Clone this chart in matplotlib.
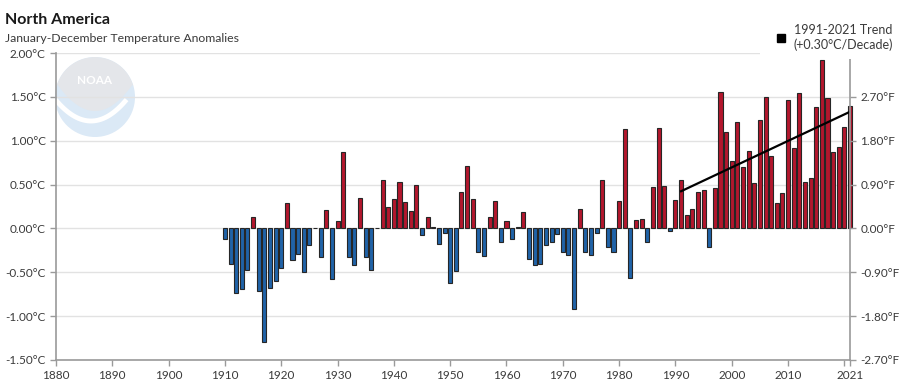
import numpy as np
import matplotlib
matplotlib.use("Agg")
import matplotlib.pyplot as plt
from matplotlib.lines import Line2D
from matplotlib.patches import Rectangle, Circle, Polygon

plt.rcParams['font.family'] = ['Lato', 'DejaVu Sans']

# Annual (Jan-Dec) temperature anomalies, North America, °C
years = list(range(1910, 2022))
anomalies = [
    -0.12, -0.41, -0.74, -0.69, -0.47, 0.13, -0.71, -1.30, -0.68, -0.60,   # 1910s
    -0.45, 0.29, -0.36, -0.29, -0.50, -0.19, 0.01, -0.33, 0.21, -0.58,     # 1920s
    0.08, 0.87, -0.33, -0.42, 0.35, -0.33, -0.47, 0.01, 0.55, 0.25,        # 1930s
    0.34, 0.53, 0.30, 0.20, 0.49, -0.08, 0.13, 0.02, -0.18, -0.05,         # 1940s
    -0.62, -0.48, 0.42, 0.71, 0.34, -0.27, -0.31, 0.13, 0.31, -0.16,       # 1950s
    0.09, -0.12, 0.02, 0.19, -0.35, -0.42, -0.41, -0.19, -0.16, -0.06,     # 1960s
    -0.27, -0.30, -0.92, 0.22, -0.27, -0.30, -0.05, 0.55, -0.21, -0.27,    # 1970s
    0.31, 1.13, -0.57, 0.10, 0.11, -0.16, 0.47, 1.14, 0.48, -0.03,         # 1980s
    0.32, 0.55, 0.15, 0.22, 0.41, 0.44, -0.21, 0.46, 1.55, 1.10,           # 1990s
    0.77, 1.21, 0.70, 0.88, 0.52, 1.24, 1.50, 0.83, 0.29, 0.40,            # 2000s
    1.46, 0.92, 1.54, 0.53, 0.58, 1.38, 1.92, 1.49, 0.87, 0.93,            # 2010s
    1.16, 1.40,                                                            # 2020s
]
trend_start, trend_end = 1991, 2021

c_ticks = [-1.5, -1.0, -0.5, 0.0, 0.5, 1.0, 1.5, 2.0]
x_ticks = [1880, 1890, 1900, 1910, 1920, 1930, 1940, 1950, 1960, 1970, 1980, 1990, 2000, 2010, 2021]

RED = '#b3172d'
BLUE = '#2063a8'
AXIS = '#9a9a9a'
TXT = '#3a3a3a'

fig = plt.figure(figsize=(8.99, 3.88), dpi=100)
ax = fig.add_axes([56 / 899, 28 / 388, 794 / 899, 307 / 388])

yrs = np.array(years)
vals = np.array(anomalies)
colors = [RED if v >= 0 else BLUE for v in vals]
ax.bar(yrs, vals, width=0.72, color=colors, edgecolor='#262626', linewidth=0.8,
       zorder=3, clip_on=False)

# 1991-2021 linear trend
sel = (yrs >= trend_start) & (yrs <= trend_end)
k, b = np.polyfit(yrs[sel], vals[sel], 1)
tx = np.array([trend_start, trend_end])
ax.plot(tx, k * tx + b, color='black', linewidth=1.6, zorder=4)

ax.set_xlim(1880, 2021)
ax.set_ylim(-1.5, 2.0)
ax.set_yticks(c_ticks)
ax.set_yticklabels([f'{t:.2f}°C' for t in c_ticks])
ax.set_xticks(x_ticks)
ax.set_xticks([2020], minor=True)
ax.set_xticklabels([str(t) for t in x_ticks])
ax.grid(axis='y', color='#e2e2e2', linewidth=1.0, zorder=0)
ax.set_axisbelow(True)

for s in ['top', 'right']:
    ax.spines[s].set_visible(False)
for s in ['left', 'bottom']:
    ax.spines[s].set_color(AXIS)
    ax.spines[s].set_linewidth(1.2)
ax.tick_params(axis='both', which='both', colors=AXIS, labelcolor=TXT, labelsize=8.5,
               length=4, width=1)

# Fahrenheit axis (top label sits under the legend in the original)
ax2 = ax.twinx()
ax2.set_ylim(-1.5 * 1.8, 2.0 * 1.8)
f_ticks = [t * 1.8 for t in c_ticks[:-1]]
ax2.set_yticks(f_ticks)
ax2.set_yticklabels([f'{t:.2f}°F' for t in f_ticks])
for s in ['top', 'left', 'bottom']:
    ax2.spines[s].set_visible(False)
ax2.spines['right'].set_color(AXIS)
ax2.spines['right'].set_linewidth(1.2)
ax2.tick_params(axis='y', colors=AXIS, labelcolor=TXT, labelsize=8.5, length=4, width=1)

# NOAA watermark
wm = fig.add_axes([55 / 899, 251 / 388, 80 / 899, 80 / 388], zorder=-1)
wm.set_xlim(-1, 1)
wm.set_ylim(-1, 1)
wm.set_aspect('equal')
wm.axis('off')
circ = Circle((0, 0), 1, facecolor='#dbe9f6', edgecolor='none')
wm.add_patch(circ)
xs = np.linspace(-1, 1, 60)
upper = np.sqrt(np.clip(1 - xs ** 2, 0, None))
lower = -0.35 + 0.75 * xs ** 2
shield = Polygon(np.column_stack([np.r_[xs, xs[::-1]], np.r_[np.minimum(upper, np.maximum(lower, -1)), upper[::-1]]]),
                 facecolor='#e4e6ea', edgecolor='none')
shield.set_clip_path(circ)
wm.add_patch(shield)
sx = np.linspace(-0.95, 0.75, 60)
sw, = wm.plot(sx, -0.55 + 0.55 * ((sx + 0.1) / 0.9) ** 2 - 0.05, color='white', linewidth=3.5)
sw.set_clip_path(circ)
wm.text(0, 0.42, 'NOAA', color='white', fontsize=8.5, fontweight='bold', ha='center', va='center')
ax.patch.set_alpha(0)

# legend area (covers the top of the plot at the right)
fig.patches.append(Rectangle((760 / 899, 329 / 388), 139 / 899, 59 / 388, transform=fig.transFigure,
                             facecolor='white', edgecolor='none', zorder=5))
handle = Line2D([], [], marker='s', color='black', linestyle='none', markersize=6)
leg = fig.legend([handle], ['1991-2021 Trend\n(+0.30°C/Decade)'], loc='upper left',
                 bbox_to_anchor=(770 / 899, 1 - 19 / 388), frameon=False, fontsize=9,
                 handletextpad=0.6, handlelength=0.9, borderaxespad=0)
leg.set_zorder(6)
for t in leg.get_texts():
    t.set_color(TXT)
    t.set_linespacing(1.25)

fig.text(5 / 899, 1 - 20 / 388, 'North America', fontsize=11.5, fontweight='bold', color='#1a1a1a',
         va='center', ha='left')
fig.text(5 / 899, 1 - 39 / 388, 'January-December Temperature Anomalies', fontsize=8.8, color=TXT,
         va='center', ha='left')

fig.savefig('out.png', dpi=100)
